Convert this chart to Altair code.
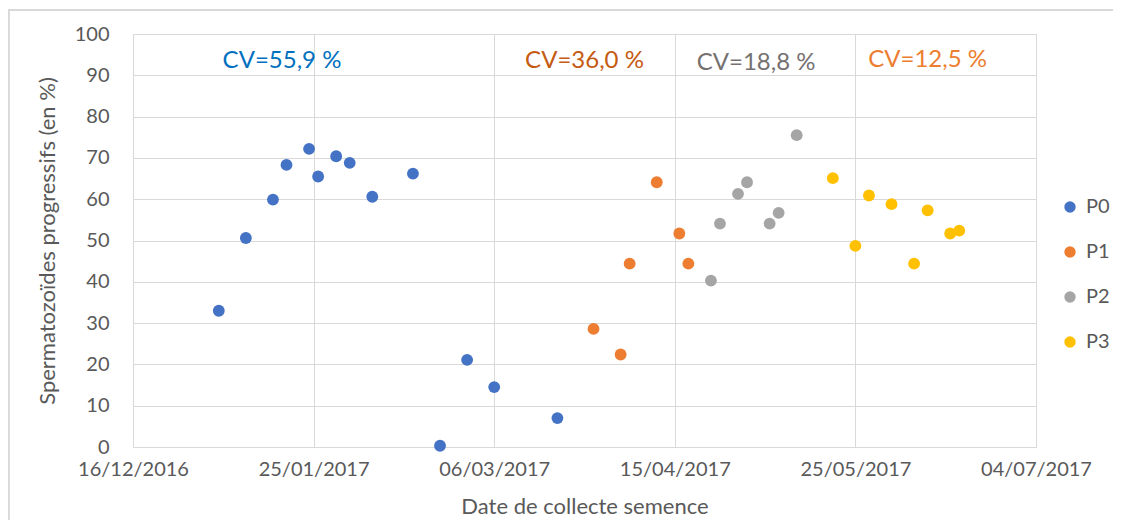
import altair as alt
import pandas as pd

# ---- data ----
p0_dates = ["2017-01-04", "2017-01-10", "2017-01-16", "2017-01-19", "2017-01-24",
            "2017-01-26", "2017-01-30", "2017-02-02", "2017-02-07", "2017-02-16",
            "2017-02-22", "2017-02-28", "2017-03-06", "2017-03-20"]
p0_values = [33.0, 50.6, 59.9, 68.3, 72.2, 65.5, 70.4, 68.8, 60.6, 66.2, 0.3, 21.1, 14.5, 7.0]

p1_dates = ["2017-03-28", "2017-04-03", "2017-04-05", "2017-04-11", "2017-04-16", "2017-04-18"]
p1_values = [28.6, 22.4, 44.4, 64.1, 51.7, 44.4]

p2_dates = ["2017-04-23", "2017-04-25", "2017-04-29", "2017-05-01", "2017-05-06",
            "2017-05-08", "2017-05-12"]
p2_values = [40.3, 54.1, 61.3, 64.1, 54.1, 56.7, 75.5]

p3_dates = ["2017-05-20", "2017-05-25", "2017-05-28", "2017-06-02", "2017-06-07",
            "2017-06-10", "2017-06-15", "2017-06-17"]
p3_values = [65.1, 48.7, 60.9, 58.8, 44.4, 57.3, 51.7, 52.4]

series_names = ["P0", "P1", "P2", "P3"]

cv_labels = ["CV=55,9 %", "CV=36,0 %", "CV=18,8 %", "CV=12,5 %"]
cv_dates = ["2017-01-18", "2017-03-26", "2017-05-03", "2017-06-10"]
cv_y = [93.5, 93.5, 93.0, 93.6]

x_tick_labels = ["16/12/2016", "25/01/2017", "06/03/2017", "15/04/2017", "25/05/2017", "04/07/2017"]

# ---- build tables ----
start = pd.Timestamp("2016-12-16")
rows = []
for name, ds, vs in zip(series_names,
                        [p0_dates, p1_dates, p2_dates, p3_dates],
                        [p0_values, p1_values, p2_values, p3_values]):
    for d, v in zip(ds, vs):
        rows.append({"serie": name, "day": (pd.Timestamp(d) - start).days, "value": v})
df = pd.DataFrame(rows)

ann = pd.DataFrame({
    "label": cv_labels,
    "day": [(pd.Timestamp(d) - start).days for d in cv_dates],
    "value": cv_y,
})

FONT = "Lato"
TXT = "#595959"
GRID = "#d9d9d9"
series_colors = ["#4472C4", "#ED7D31", "#A5A5A5", "#FFC000"]
cv_colors = ["#0070C0", "#C55A11", "#767171", "#ED7D31"]

label_expr = "[" + ",".join("'" + t + "'" for t in x_tick_labels) + "][round(datum.value/40)]"

x_enc = alt.X("day:Q",
              scale=alt.Scale(domain=[0, 200], nice=False, zero=False),
              axis=alt.Axis(values=[0, 40, 80, 120, 160, 200], labelExpr=label_expr,
                            title="Date de collecte semence",
                            grid=True, gridColor=GRID, domain=True, domainColor=GRID,
                            ticks=False, labelPadding=12, titlePadding=17,
                            labelFlush=False, labelOverlap=False, labelBound=False,
                            labelFontSize=20, titleFontSize=22,
                            labelColor=TXT, titleColor=TXT, labelFont=FONT, titleFont=FONT,
                            titleFontWeight="normal"))
y_enc = alt.Y("value:Q",
              scale=alt.Scale(domain=[0, 100], nice=False),
              axis=alt.Axis(values=list(range(0, 101, 10)),
                            title="Spermatozoïdes progressifs (en %)",
                            grid=True, gridColor=GRID, domain=False, ticks=False,
                            labelPadding=24, titlePadding=15,
                            labelFlush=False,
                            labelFontSize=20, titleFontSize=22,
                            labelColor=TXT, titleColor=TXT, labelFont=FONT, titleFont=FONT,
                            titleFontWeight="normal"))

points = alt.Chart(df).mark_circle(size=140, opacity=1).encode(
    x=x_enc,
    y=y_enc,
    color=alt.Color("serie:N",
                    scale=alt.Scale(domain=series_names, range=series_colors),
                    legend=alt.Legend(title=None, orient="none", legendX=927, legendY=163,
                                      labelFontSize=20, labelFont=FONT, labelColor=TXT,
                                      symbolType="circle", symbolSize=130,
                                      rowPadding=25, labelOffset=6)),
)

texts = alt.Chart(ann).mark_text(font=FONT, fontSize=24, align="center", baseline="middle").encode(
    x="day:Q",
    y="value:Q",
    text="label:N",
    color=alt.Color("label:N", scale=alt.Scale(domain=cv_labels, range=cv_colors), legend=None),
)

frame_left = alt.Chart(df).mark_rule(color=GRID, strokeWidth=1.5).encode(
    x=alt.value(-124.5), y=alt.value(-24), y2=alt.value(500))
frame_top = alt.Chart(df).mark_rule(color=GRID, strokeWidth=1.5).encode(
    x=alt.value(-124.5), x2=alt.value(1000), y=alt.value(-24))

chart = alt.layer(frame_left, frame_top, points, texts).resolve_scale(color="independent").properties(
    width=903, height=413,
    autosize=alt.AutoSizeParams(type="none"),
    padding={"left": 125, "top": 26, "right": 77, "bottom": 73},
).configure_view(stroke=None).configure(font=FONT, background="white")

chart.save("out.html", embed_options={"renderer": "svg", "actions": False})
